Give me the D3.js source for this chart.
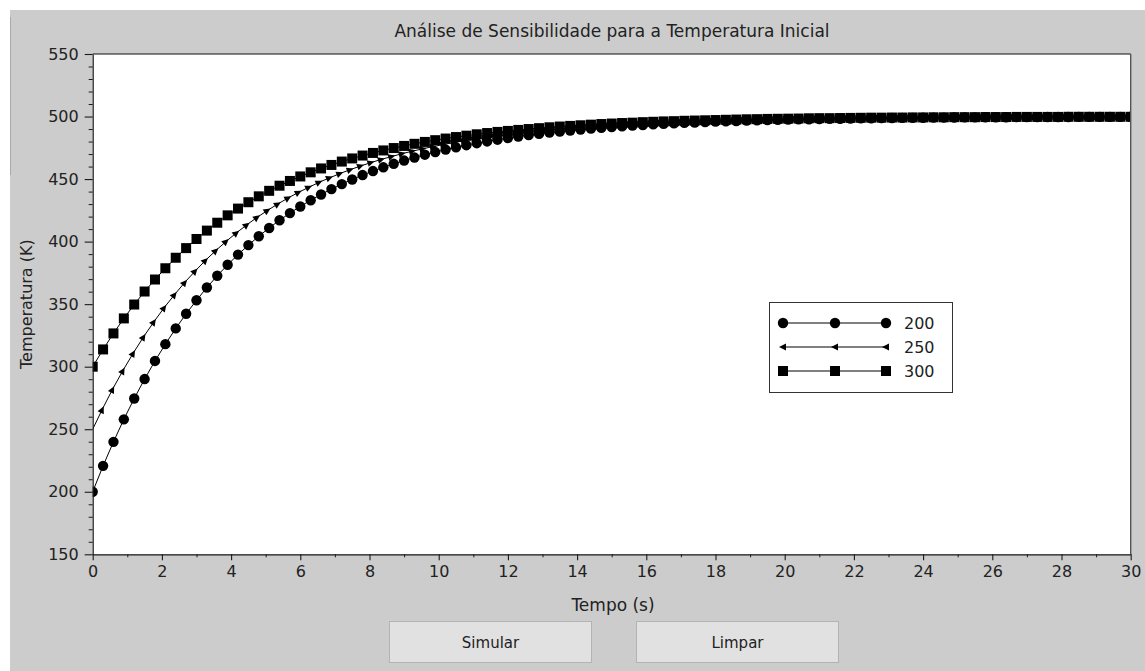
<!DOCTYPE html>
<html>
<head>
<meta charset="utf-8">
<script src="https://cdn.jsdelivr.net/npm/d3@7"></script>
<style>
  html, body { margin: 0; padding: 0; background: #ffffff; }
  svg { display: block; }
  text { font-family: "DejaVu Sans", sans-serif; fill: #222; }
</style>
</head>
<body>
<svg id="chart" width="1145" height="671"></svg>
<script>
// Simulation time (s)
const time = [
  0.0, 0.3, 0.6, 0.9, 1.2, 1.5, 1.8, 2.1, 2.4, 2.7,
  3.0, 3.3, 3.6, 3.9, 4.2, 4.5, 4.8, 5.1, 5.4, 5.7,
  6.0, 6.3, 6.6, 6.9, 7.2, 7.5, 7.8, 8.1, 8.4, 8.7,
  9.0, 9.3, 9.6, 9.9, 10.2, 10.5, 10.8, 11.1, 11.4, 11.7,
  12.0, 12.3, 12.6, 12.9, 13.2, 13.5, 13.8, 14.1, 14.4, 14.7,
  15.0, 15.3, 15.6, 15.9, 16.2, 16.5, 16.8, 17.1, 17.4, 17.7,
  18.0, 18.3, 18.6, 18.9, 19.2, 19.5, 19.8, 20.1, 20.4, 20.7,
  21.0, 21.3, 21.6, 21.9, 22.2, 22.5, 22.8, 23.1, 23.4, 23.7,
  24.0, 24.3, 24.6, 24.9, 25.2, 25.5, 25.8, 26.1, 26.4, 26.7,
  27.0, 27.3, 27.6, 27.9, 28.2, 28.5, 28.8, 29.1, 29.4, 29.7,
  30.0
];

// Temperature (K) for an initial temperature of 200 K
const temp200 = [
  200.0, 220.7, 239.9, 257.9, 274.6, 290.1, 304.6, 318.0, 330.6, 342.3,
  353.1, 363.3, 372.7, 381.5, 389.6, 397.2, 404.3, 410.9, 417.1, 422.8,
  428.1, 433.1, 437.7, 442.0, 446.0, 449.7, 453.2, 456.4, 459.4, 462.2,
  464.8, 467.2, 469.5, 471.6, 473.6, 475.4, 477.1, 478.7, 480.1, 481.5,
  482.8, 484.0, 485.1, 486.1, 487.1, 487.9, 488.8, 489.6, 490.3, 490.9,
  491.6, 492.1, 492.7, 493.2, 493.7, 494.1, 494.5, 494.9, 495.2, 495.6,
  495.9, 496.2, 496.4, 496.7, 496.9, 497.1, 497.3, 497.5, 497.7, 497.8,
  498.0, 498.1, 498.2, 498.4, 498.5, 498.6, 498.7, 498.8, 498.9, 498.9,
  499.0, 499.1, 499.1, 499.2, 499.3, 499.3, 499.4, 499.4, 499.4, 499.5,
  499.5, 499.5, 499.6, 499.6, 499.6, 499.7, 499.7, 499.7, 499.7, 499.7,
  499.8
];

// Temperature (K) for an initial temperature of 250 K
const temp250 = [
  250.0, 267.2, 283.3, 298.2, 312.1, 325.1, 337.1, 348.4, 358.8, 368.6,
  377.6, 386.1, 393.9, 401.2, 408.0, 414.4, 420.3, 425.8, 430.9, 435.7,
  440.1, 444.2, 448.1, 451.6, 455.0, 458.1, 461.0, 463.7, 466.2, 468.5,
  470.7, 472.7, 474.6, 476.3, 478.0, 479.5, 480.9, 482.2, 483.4, 484.6,
  485.6, 486.6, 487.6, 488.4, 489.2, 490.0, 490.6, 491.3, 491.9, 492.5,
  493.0, 493.5, 493.9, 494.3, 494.7, 495.1, 495.4, 495.7, 496.0, 496.3,
  496.6, 496.8, 497.0, 497.2, 497.4, 497.6, 497.8, 497.9, 498.1, 498.2,
  498.3, 498.4, 498.5, 498.6, 498.7, 498.8, 498.9, 499.0, 499.0, 499.1,
  499.2, 499.2, 499.3, 499.3, 499.4, 499.4, 499.5, 499.5, 499.5, 499.6,
  499.6, 499.6, 499.7, 499.7, 499.7, 499.7, 499.7, 499.8, 499.8, 499.8,
  499.8
];

// Temperature (K) for an initial temperature of 300 K
const temp300 = [
  300.0, 313.8, 326.6, 338.6, 349.7, 360.1, 369.7, 378.7, 387.1, 394.8,
  402.1, 408.8, 415.1, 421.0, 426.4, 431.5, 436.2, 440.6, 444.7, 448.5,
  452.1, 455.4, 458.5, 461.3, 464.0, 466.5, 468.8, 470.9, 472.9, 474.8,
  476.5, 478.2, 479.7, 481.1, 482.4, 483.6, 484.7, 485.8, 486.8, 487.7,
  488.5, 489.3, 490.0, 490.7, 491.4, 492.0, 492.5, 493.0, 493.5, 494.0,
  494.4, 494.8, 495.1, 495.5, 495.8, 496.1, 496.3, 496.6, 496.8, 497.0,
  497.2, 497.4, 497.6, 497.8, 497.9, 498.1, 498.2, 498.3, 498.4, 498.6,
  498.7, 498.7, 498.8, 498.9, 499.0, 499.1, 499.1, 499.2, 499.2, 499.3,
  499.3, 499.4, 499.4, 499.5, 499.5, 499.5, 499.6, 499.6, 499.6, 499.7,
  499.7, 499.7, 499.7, 499.7, 499.8, 499.8, 499.8, 499.8, 499.8, 499.8,
  499.8
];

const legendLabels = ["200", "250", "300"];
const markerKinds = ["circle", "arrow", "square"];
const xTicks = [0, 2, 4, 6, 8, 10, 12, 14, 16, 18, 20, 22, 24, 26, 28, 30];
const xMinorTicks = [1, 3, 5, 7, 9, 11, 13, 15, 17, 19, 21, 23, 25, 27, 29];
const yTicks = [150, 200, 250, 300, 350, 400, 450, 500, 550];
const yMinorTicks = d3.range(160, 550, 10).filter(v => v % 50 !== 0);

const titleText = "Análise de Sensibilidade para a Temperatura Inicial";
const xLabel = "Tempo (s)";
const yLabel = "Temperatura (K)";
const buttons = ["Simular", "Limpar"];

const svg = d3.select("#chart");

// window panel
svg.append("rect").attr("x", 10).attr("y", 10).attr("width", 1135).attr("height", 661).attr("fill", "#cccccc");
svg.append("line").attr("x1", 10.5).attr("x2", 10.5).attr("y1", 17).attr("y2", 175)
  .attr("stroke", "#a9a9a9").attr("stroke-width", 1);

const plot = { left: 92.7, right: 1130.7, top: 54, bottom: 554.3 };

const x = d3.scaleLinear().domain([0, 30]).range([plot.left, plot.right]);
const y = d3.scaleLinear().domain([150, 550]).range([plot.bottom, plot.top]);

// plotting area
svg.append("rect")
  .attr("x", plot.left).attr("y", plot.top)
  .attr("width", plot.right - plot.left).attr("height", plot.bottom - plot.top)
  .attr("fill", "#ffffff");

svg.append("defs").append("clipPath").attr("id", "plotClip")
  .append("rect")
  .attr("x", plot.left).attr("y", plot.top)
  .attr("width", plot.right - plot.left).attr("height", plot.bottom - plot.top);

// title
svg.append("text")
  .attr("x", 612).attr("y", 36.5)
  .attr("text-anchor", "middle")
  .style("font-size", "17px")
  .text(titleText);

// series
const series = [
  { label: legendLabels[0], kind: markerKinds[0], values: temp200 },
  { label: legendLabels[1], kind: markerKinds[1], values: temp250 },
  { label: legendLabels[2], kind: markerKinds[2], values: temp300 }
];

const g = svg.append("g").attr("clip-path", "url(#plotClip)");
const line = d3.line().x(d => x(d[0])).y(d => y(d[1]));

function drawMarker(sel, kind, px, py, angle) {
  if (kind === "circle") {
    sel.append("circle").attr("cx", px).attr("cy", py).attr("r", 5.2).attr("fill", "#000");
  } else if (kind === "square") {
    sel.append("rect").attr("x", px - 5).attr("y", py - 5).attr("width", 10).attr("height", 10).attr("fill", "#000");
  } else {
    // arrowhead with its tip on the vertex, oriented along the segment
    sel.append("path")
      .attr("d", "M0,0 L-7,-3.4 L-7,3.4 Z")
      .attr("transform", `translate(${px},${py}) rotate(${angle})`)
      .attr("fill", "#000");
  }
}

series.forEach(s => {
  const pts = time.map((t, i) => [t, s.values[i]]);
  g.append("path").datum(pts).attr("d", line)
    .attr("fill", "none").attr("stroke", "#000").attr("stroke-width", 1);
  const mg = g.append("g");
  pts.forEach((p, i) => {
    const px = x(p[0]), py = y(p[1]);
    if (s.kind === "arrow") {
      if (i === 0) return;
      const qx = x(pts[i - 1][0]), qy = y(pts[i - 1][1]);
      const ang = Math.atan2(py - qy, px - qx) * 180 / Math.PI;
      drawMarker(mg, s.kind, px + 1.5 * Math.cos(ang * Math.PI / 180), py + 1.5 * Math.sin(ang * Math.PI / 180), ang);
    } else {
      drawMarker(mg, s.kind, px, py, 0);
    }
  });
});

// frame: top and right
svg.append("line").attr("x1", plot.left).attr("x2", plot.right).attr("y1", plot.top).attr("y2", plot.top)
  .attr("stroke", "#111").attr("stroke-width", 1.2);
svg.append("line").attr("x1", plot.right).attr("x2", plot.right).attr("y1", plot.top).attr("y2", plot.bottom)
  .attr("stroke", "#555").attr("stroke-width", 1.4);

// axes
const axisColor = "#1a1a1a";
function styleAxis(a) {
  a.select(".domain").attr("stroke", axisColor).attr("stroke-width", 1.2);
  a.selectAll(".tick line").attr("stroke", axisColor).attr("stroke-width", 1.1);
  a.selectAll(".tick text").style("font-size", "16px").style("font-family", "DejaVu Sans, sans-serif").attr("fill", "#2a2a2a");
}

const xAxisG = svg.append("g").attr("transform", `translate(0,${plot.bottom})`)
  .call(d3.axisBottom(x).tickValues(xTicks).tickSize(6).tickPadding(5).tickSizeOuter(0).tickFormat(d3.format("d")));
styleAxis(xAxisG);
const xMinorG = svg.append("g").attr("transform", `translate(0,${plot.bottom})`)
  .call(d3.axisBottom(x).tickValues(xMinorTicks).tickSize(3).tickFormat(""));
xMinorG.select(".domain").remove();
xMinorG.selectAll(".tick line").attr("stroke", axisColor);

const yAxisG = svg.append("g").attr("transform", `translate(${plot.left},0)`)
  .call(d3.axisLeft(y).tickValues(yTicks).tickSize(8).tickPadding(6).tickSizeOuter(0).tickFormat(d3.format("d")));
styleAxis(yAxisG);
const yMinorG = svg.append("g").attr("transform", `translate(${plot.left},0)`)
  .call(d3.axisLeft(y).tickValues(yMinorTicks).tickSize(4).tickFormat(""));
yMinorG.select(".domain").remove();
yMinorG.selectAll(".tick line").attr("stroke", axisColor);

// axis labels
svg.append("text")
  .attr("x", 613).attr("y", 611)
  .attr("text-anchor", "middle")
  .style("font-size", "17px")
  .text(xLabel);

svg.append("text")
  .attr("transform", `translate(32,${(plot.top + plot.bottom) / 2}) rotate(-90)`)
  .attr("text-anchor", "middle")
  .style("font-size", "16px")
  .text(yLabel);

// legend
const legend = svg.append("g");
legend.append("rect")
  .attr("x", 769.5).attr("y", 302.5).attr("width", 183).attr("height", 90)
  .attr("fill", "#ffffff").attr("stroke", "#333").attr("stroke-width", 1);
const legendY = [323, 347, 371];
const legendX = [783, 835, 886];
series.forEach((s, i) => {
  const ly = legendY[i];
  legend.append("line").attr("x1", legendX[0]).attr("x2", legendX[2]).attr("y1", ly).attr("y2", ly)
    .attr("stroke", "#000").attr("stroke-width", 1);
  legendX.forEach(lx => {
    if (s.kind === "arrow") drawMarker(legend, s.kind, lx - 4, ly, 180);
    else drawMarker(legend, s.kind, lx, ly, 0);
  });
  legend.append("text")
    .attr("x", 904).attr("y", ly + 5.5)
    .style("font-size", "16px")
    .text(s.label);
});

// buttons
const buttonX = [389, 636];
buttons.forEach((b, i) => {
  svg.append("rect")
    .attr("x", buttonX[i] + 0.5).attr("y", 621.5).attr("width", 202).attr("height", 41)
    .attr("fill", "#e1e1e1").attr("stroke", "#b3b3b3").attr("stroke-width", 1);
  svg.append("text")
    .attr("x", buttonX[i] + 101.5).attr("y", 648)
    .attr("text-anchor", "middle")
    .style("font-size", "15px")
    .attr("fill", "#1a1a2a")
    .text(b);
});
</script>
</body>
</html>
